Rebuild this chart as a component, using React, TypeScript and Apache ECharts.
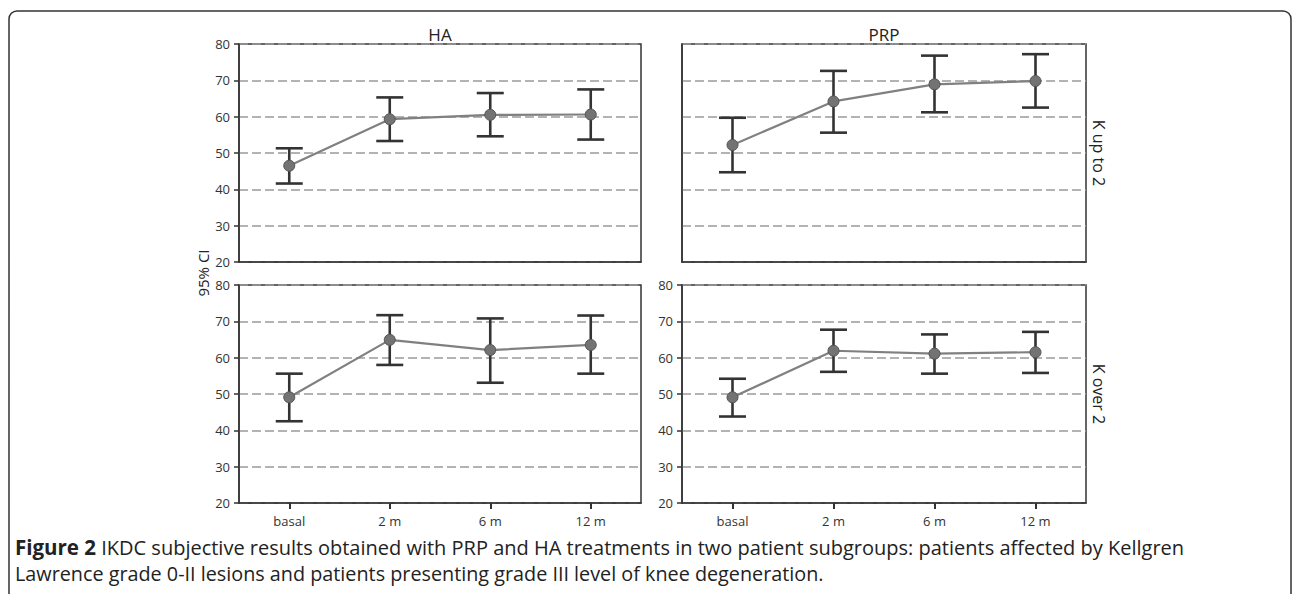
import React, { useEffect, useRef } from "react";
import * as echarts from "echarts";

const categories = ["basal", "2 m", "6 m", "12 m"];
const yTicks = { min: 20, max: 80, interval: 10 };

const haUpMean = [46.5, 59.3, 60.5, 60.6];
const haUpLow = [41.6, 53.3, 54.6, 53.7];
const haUpHigh = [51.3, 65.3, 66.5, 67.5];

const prpUpMean = [52.2, 64.2, 68.9, 69.8];
const prpUpLow = [44.7, 55.6, 61.2, 62.5];
const prpUpHigh = [59.7, 72.6, 76.8, 77.2];

const haOverMean = [49.1, 64.9, 62.1, 63.5];
const haOverLow = [42.5, 58.0, 53.1, 55.6];
const haOverHigh = [55.6, 71.7, 70.8, 71.6];

const prpOverMean = [49.1, 61.9, 61.1, 61.5];
const prpOverLow = [43.8, 56.1, 55.6, 55.8];
const prpOverHigh = [54.2, 67.7, 66.4, 67.1];

const colTitles = ["HA", "PRP"];
const rowTitles = ["K up to 2", "K over 2"];
const yAxisName = "95% CI";
const captionBold = "Figure 2";
const captionLine1 =
  " IKDC subjective results obtained with PRP and HA treatments in two patient subgroups: patients affected by Kellgren";
const captionLine2 =
  "Lawrence grade 0-II lesions and patients presenting grade III level of knee degeneration.";

const panels = [
  { mean: haUpMean, low: haUpLow, high: haUpHigh },
  { mean: prpUpMean, low: prpUpLow, high: prpUpHigh },
  { mean: haOverMean, low: haOverLow, high: haOverHigh },
  { mean: prpOverMean, low: prpOverLow, high: prpOverHigh },
];

const FONT = '"Open Sans", "Noto Sans", sans-serif';

export default function App() {
  const ref = useRef<HTMLDivElement>(null);

  useEffect(() => {
    if (!ref.current) return;
    const chart = echarts.init(ref.current, null, { renderer: "svg" });

    const gridBoxes = [
      { left: 239, top: 44, width: 402, height: 218 },
      { left: 682, top: 44, width: 404, height: 218 },
      { left: 239, top: 285, width: 402, height: 218 },
      { left: 682, top: 285, width: 404, height: 218 },
    ];

    const grids = gridBoxes.map((g) => ({
      ...g,
      show: true,
      borderColor: "#333",
      borderWidth: 1.5,
      backgroundColor: "transparent",
      containLabel: false,
    }));

    const xAxes = gridBoxes.map((_, i) => {
      const bottomRow = i >= 2;
      return {
        type: "category",
        gridIndex: i,
        data: categories,
        boundaryGap: true,
        axisLine: { show: true, lineStyle: { color: "#333", width: 1.5 } },
        axisTick: {
          show: bottomRow,
          alignWithLabel: true,
          length: 6,
          lineStyle: { color: "#333", width: 2 },
        },
        axisLabel: {
          show: bottomRow,
          margin: 11,
          fontSize: 13,
          fontFamily: FONT,
          color: "#333",
        },
        splitLine: { show: false },
      };
    });

    const yAxes = gridBoxes.map((_, i) => {
      const showLabels = i !== 1;
      return {
        type: "value",
        gridIndex: i,
        min: yTicks.min,
        max: yTicks.max,
        interval: yTicks.interval,
        axisLine: { show: true, lineStyle: { color: "#333", width: 1.5 } },
        axisTick: {
          show: showLabels,
          length: 5,
          lineStyle: { color: "#333", width: 1.5 },
        },
        axisLabel: {
          show: showLabels,
          margin: 9,
          fontSize: 13,
          fontFamily: FONT,
          color: "#333",
        },
        splitLine: {
          show: true,
          lineStyle: { color: "#9a9a9a", width: 1.6, type: [9, 4] },
        },
      };
    });

    const series: any[] = [];
    panels.forEach((p, i) => {
      series.push({
        type: "custom",
        xAxisIndex: i,
        yAxisIndex: i,
        z: 3,
        data: categories.map((_, k) => [k, p.low[k], p.high[k]]),
        encode: { x: 0, y: [1, 2] },
        renderItem: (params: any, api: any) => {
          const x = api.value(0);
          const lo = api.coord([x, api.value(1)]);
          const hi = api.coord([x, api.value(2)]);
          const hw = 13.5;
          const st = { stroke: "#333", lineWidth: 2.6, fill: "none" };
          return {
            type: "group",
            children: [
              { type: "line", shape: { x1: lo[0], y1: lo[1], x2: hi[0], y2: hi[1] }, style: st },
              { type: "line", shape: { x1: lo[0] - hw, y1: lo[1], x2: lo[0] + hw, y2: lo[1] }, style: st },
              { type: "line", shape: { x1: hi[0] - hw, y1: hi[1], x2: hi[0] + hw, y2: hi[1] }, style: st },
            ],
          };
        },
      });
      series.push({
        type: "line",
        xAxisIndex: i,
        yAxisIndex: i,
        z: 5,
        data: p.mean,
        symbol: "circle",
        symbolSize: 11,
        lineStyle: { color: "#808080", width: 2.2 },
        itemStyle: { color: "#737373", borderColor: "#555", borderWidth: 1 },
      });
    });

    const graphic: any[] = [
      {
        type: "rect",
        shape: { x: 9, y: 11, width: 1282, height: 620, r: 8 },
        style: { fill: "none", stroke: "#333", lineWidth: 1.5 },
        silent: true,
      },
      {
        type: "text",
        x: 440,
        y: 34,
        style: { text: colTitles[0], fontSize: 17, fontFamily: FONT, fill: "#222", align: "center", verticalAlign: "middle" },
      },
      {
        type: "text",
        x: 884,
        y: 34,
        style: { text: colTitles[1], fontSize: 17, fontFamily: FONT, fill: "#222", align: "center", verticalAlign: "middle" },
      },
      {
        type: "text",
        x: 1099,
        y: 153,
        rotation: -Math.PI / 2,
        style: { text: rowTitles[0], fontSize: 16, fontFamily: FONT, fill: "#222", align: "center", verticalAlign: "middle" },
      },
      {
        type: "text",
        x: 1099,
        y: 394,
        rotation: -Math.PI / 2,
        style: { text: rowTitles[1], fontSize: 16, fontFamily: FONT, fill: "#222", align: "center", verticalAlign: "middle" },
      },
      {
        type: "text",
        x: 203,
        y: 273,
        rotation: Math.PI / 2,
        style: { text: yAxisName, fontSize: 15, fontFamily: FONT, fill: "#222", align: "center", verticalAlign: "middle" },
      },
      {
        type: "text",
        x: 15,
        y: 547,
        style: {
          text: "{b|" + captionBold + "}{r|" + captionLine1 + "}",
          verticalAlign: "middle",
          rich: {
            b: { fontSize: 20.5, fontFamily: FONT, fontWeight: "bold", fill: "#222", color: "#222" },
            r: { fontSize: 20, fontFamily: FONT, fill: "#222", color: "#222" },
          },
        },
      },
      {
        type: "text",
        x: 15,
        y: 573,
        style: { text: captionLine2, fontSize: 19.8, fontFamily: FONT, fill: "#222", verticalAlign: "middle" },
      },
    ];

    chart.setOption({
      animation: false,
      backgroundColor: "#fff",
      grid: grids,
      xAxis: xAxes,
      yAxis: yAxes,
      series,
      graphic,
    });

    return () => chart.dispose();
  }, []);

  return (
    <div
      ref={ref}
      style={{ position: "fixed", left: 0, top: 0, width: 1292, height: 594 }}
    />
  );
}
